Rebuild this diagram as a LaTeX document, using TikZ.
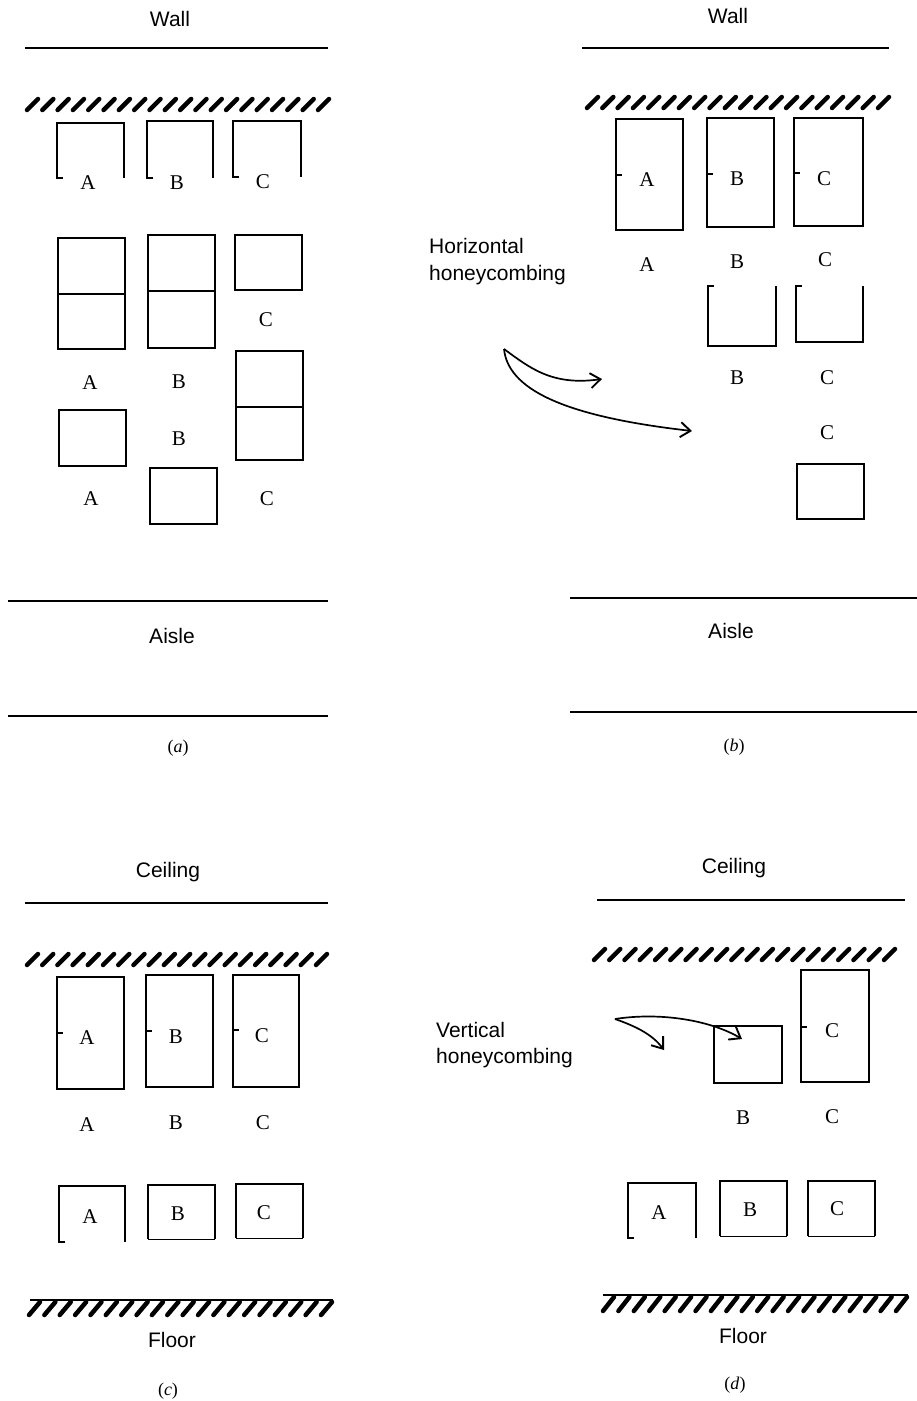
\documentclass[tikz,border=0pt]{standalone}
\usepackage{fontspec}
\setmainfont{Liberation Serif}
\newfontfamily\sansf{Liberation Sans}
\usetikzlibrary{arrows.meta}
\tikzset{
  x=1pt,y=-1pt,
  bx/.style={line width=1.8pt, line join=miter},
  thinbot/.style={line width=0.9pt},
  wall/.style={line width=1.4pt},
  hst/.style={line width=4.5pt, line cap=round},
  lt/.style={font=\fontsize{21}{25}\selectfont, inner sep=0pt},
  st/.style={font=\sansf\fontsize{21}{25}\selectfont, inner sep=0pt, anchor=base},
  stl/.style={font=\sansf\fontsize{21}{25}\selectfont, inner sep=0pt, anchor=base west},
  captext/.style={font=\fontsize{18}{22}\selectfont, inner sep=0pt, anchor=base},
  hc/.style={line width=1.7pt, -{Straight Barb[length=10pt,width=15pt,line width=1.9pt]}}
}
% hatch: x0, x1, ytop, ybottom  (20 strokes, rounded ends)
\newcommand{\myhatch}[4]{%
  \foreach \i in {0,...,19} {%
    \draw[hst] ({#1+2+\i*(#2-#1-15)/19}, {#4-2}) -- ++(11, {-(#4-#3-4)});%
  }%
}
% open-bottom box with left hook: x1 y1 x2 y2
\newcommand{\openbot}[4]{\draw[bx] ({#1+6},#4) -- (#1,#4) -- (#1,#2) -- (#3,#2) -- (#3,#4);}
% open-top box with left hook
\newcommand{\opentop}[4]{\draw[bx] ({#1+6},#2) -- (#1,#2) -- (#1,#4) -- (#3,#4) -- (#3,#2);}
% tall box with tick at y=#5
\newcommand{\tallbox}[5]{\draw[bx] (#1,#2) rectangle (#3,#4); \draw[bx] (#1,#5) -- ({#1+6},#5);}
% closed box with thin bottom
\newcommand{\thinbox}[4]{\draw[bx] (#1,#4) -- (#1,#2) -- (#3,#2) -- (#3,#4); \draw[thinbot] (#1,#4) -- (#3,#4);}
\begin{document}
\begin{tikzpicture}
\useasboundingbox (0,0) rectangle (917,1401);

% ================= (a) =================
\node[st] (wallA) at (170,26) {Wall};
\draw[wall] (25,48) -- (328,48);
\myhatch{25}{331}{97}{112}
\openbot{57}{123}{124}{178}
\openbot{147}{121}{213}{178}
\openbot{233}{121}{301}{177}
\node[lt] (a1A) at (88,183) {A};
\node[lt] (a1B) at (177,183) {B};
\node[lt] (a1C) at (263,182) {C};
% doubles
\draw[bx] (58,238) rectangle (125,349); \draw[bx] (58,294) -- (125,294);
\draw[bx] (148,235) rectangle (215,348); \draw[bx] (148,291) -- (215,291);
\draw[bx] (235,235) rectangle (302,290);
\node[lt] (a2C) at (266,320) {C};
\node[lt] (a2A) at (90,383) {A};
\node[lt] (a2B) at (179,382) {B};
\draw[bx] (236,351) rectangle (303,460); \draw[bx] (236,407) -- (303,407);
\draw[bx] (59,410) rectangle (126,466);
\node[lt] (a3B) at (179,439) {B};
\node[lt] (a3A) at (91,499) {A};
\node[lt] (a3C) at (267,499) {C};
\draw[bx] (150,468) rectangle (217,524);
\draw[wall] (8,601) -- (328,601);
\node[st] (aisleA) at (172,643) {Aisle};
\draw[wall] (8,716) -- (328,716);
\node[captext] (capa) at (178,752) {(\textit{a})};

% ================= (b) =================
\node[st] (wallB) at (728,23) {Wall};
\draw[wall] (582,48) -- (889,48);
\myhatch{585}{891}{95}{110}
\tallbox{616}{119}{683}{230}{175}
\tallbox{707}{118}{774}{227}{174}
\tallbox{794}{118}{863}{226}{173}
\node[lt] (b1A) at (647,180) {A};
\node[lt] (b1B) at (737,179) {B};
\node[lt] (b1C) at (824,179) {C};
\node[lt] (b2A) at (647,265) {A};
\node[lt] (b2B) at (737,262) {B};
\node[lt] (b2C) at (825,260) {C};
\node[stl] (hor1) at (429,253) {Horizontal};
\node[stl] (hor2) at (429,280) {honeycombing};
\opentop{708}{286}{776}{346}
\opentop{796}{286}{863}{342}
\node[lt] (b3B) at (737,378) {B};
\node[lt] (b3C) at (827,378) {C};
\node[lt] (b4C) at (827,433) {C};
\draw[bx] (797,464) rectangle (864,519);
\coordinate (hs) at (504,349);
\coordinate (he1) at (602,379);
\coordinate (he2) at (692,431);
\draw[hc] (hs) .. controls (530,368) and (552,386) .. (he1);
\draw[hc] (hs) .. controls (508,388) and (560,416) .. (he2);
\draw[wall] (570,598) -- (917,598);
\node[st] (aisleB) at (731,638) {Aisle};
\draw[wall] (570,712) -- (917,712);
\node[captext] (capb) at (734,751) {(\textit{b})};

% ================= (c) =================
\node[st] (ceilC) at (168,877) {Ceiling};
\draw[wall] (25,903) -- (328,903);
\myhatch{25}{329}{952}{967}
\tallbox{57}{977}{124}{1089}{1033}
\tallbox{146}{975}{213}{1087}{1031}
\tallbox{233}{975}{299}{1087}{1030}
\node[lt] (c1A) at (87,1038) {A};
\node[lt] (c1B) at (176,1037) {B};
\node[lt] (c1C) at (262,1036) {C};
\node[lt] (c2A) at (87,1125) {A};
\node[lt] (c2B) at (176,1123) {B};
\node[lt] (c2C) at (263,1123) {C};
\openbot{59}{1186}{125}{1242}
\thinbox{148}{1185}{215}{1239}
\thinbox{236}{1184}{303}{1238}
\node[lt] (c3A) at (90,1217) {A};
\node[lt] (c3B) at (178,1214) {B};
\node[lt] (c3C) at (264,1213) {C};
\draw[wall] (30,1300) -- (333,1300);
\myhatch{27}{334}{1300}{1317}
\node[st] (floorC) at (172,1347) {Floor};
\node[captext] (capc) at (168,1395) {(\textit{c})};

% ================= (d) =================
\node[st] (ceilD) at (734,873) {Ceiling};
\draw[wall] (597,900) -- (905,900);
\myhatch{592}{897}{947}{962}
\tallbox{801}{970}{869}{1082}{1027}
\node[lt] (d1C) at (832,1031) {C};
\draw[bx] (714,1026) rectangle (782,1083);
\node[lt] (d2B) at (743,1118) {B};
\node[lt] (d2C) at (832,1117) {C};
\node[stl] (ver1) at (436,1037) {Vertical};
\node[stl] (ver2) at (436,1063) {honeycombing};
\coordinate (vs) at (615,1019);
\coordinate (ve1) at (664,1050);
\coordinate (ve2) at (742,1039);
\draw[hc] (vs) .. controls (635,1026) and (652,1034) .. (ve1);
\draw[hc] (vs) .. controls (660,1012) and (710,1020) .. (ve2);
\openbot{628}{1183}{696}{1238}
\thinbox{720}{1181}{787}{1236}
\thinbox{808}{1181}{875}{1236}
\node[lt] (d3A) at (659,1213) {A};
\node[lt] (d3B) at (750,1210) {B};
\node[lt] (d3C) at (837,1209) {C};
\draw[wall] (603,1295) -- (908,1295);
\myhatch{601}{909}{1295}{1313}
\node[st] (floorD) at (743,1343) {Floor};
\node[captext] (capd) at (735,1389) {(\textit{d})};
\end{tikzpicture}
\end{document}
